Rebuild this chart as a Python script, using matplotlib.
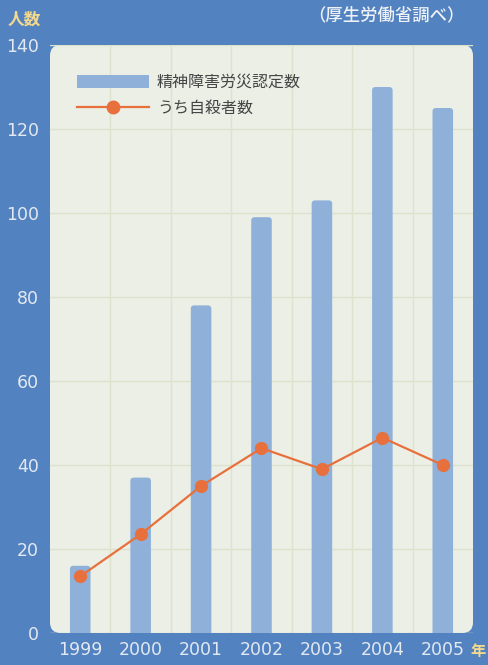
import matplotlib
matplotlib.use("Agg")
import matplotlib.pyplot as plt
from matplotlib.patches import FancyBboxPatch, Patch
from matplotlib.lines import Line2D
import numpy as np

plt.rcParams['font.family'] = ['Noto Sans CJK JP', 'DejaVu Sans']

years = ['1999', '2000', '2001', '2002', '2003', '2004', '2005']
nintei = [16, 37, 78, 99, 103, 130, 125]     # 精神障害労災認定数
jisatsu = [13.5, 23.5, 35, 44, 39, 46.5, 40]  # うち自殺者数
yticks = [0, 20, 40, 60, 80, 100, 120, 140]

bg = '#5382c0'
panel = '#ebefe6'
barc = '#8eb0d9'
linec = '#e8703c'
gridc = '#dde2cc'
tickc = '#e2e9f2'
yellow = '#f3d98e'

fig = plt.figure(figsize=(4.88, 6.65), dpi=100, facecolor=bg)
ax = fig.add_axes([50/488, 32/665, 423/488, 588/665])
ax.set_facecolor('none')

# rounded light panel
ax.add_patch(FancyBboxPatch((0, 0), 1, 1, boxstyle="round,pad=0,rounding_size=0.025",
                            mutation_aspect=423/588, transform=ax.transAxes,
                            facecolor=panel, edgecolor='none', zorder=0, clip_on=False))

x = np.arange(len(years))
bars = ax.bar(x, nintei, width=0.34, color=barc, zorder=2)
# round the bar tops
for b in bars:
    b.set_visible(False)
    ax.add_patch(FancyBboxPatch((b.get_x(), -3), b.get_width(), b.get_height() + 3,
                                boxstyle="round,pad=0,rounding_size=0.06",
                                mutation_aspect=13, facecolor=barc, edgecolor='none',
                                zorder=2))
ax.plot(x, jisatsu, color=linec, lw=1.6, marker='o', ms=8.5, zorder=3)

ax.set_xlim(-0.5, 6.5)
ax.set_ylim(0, 140)
ax.set_yticks(yticks)
ax.set_xticks(x)
ax.set_xticklabels(years)
ax.set_xticks(np.arange(0.5, 6.5, 1), minor=True)
ax.tick_params(axis='both', which='both', length=0, colors=tickc, labelsize=12.5,
               labelfontfamily='DejaVu Sans')
ax.tick_params(axis='y', pad=8)
ax.tick_params(axis='x', pad=6)
ax.grid(axis='y', which='major', color=gridc, lw=1, zorder=1)
ax.grid(axis='x', which='minor', color=gridc, lw=1, zorder=1)
for s in ax.spines.values():
    s.set_visible(False)

handles = [Patch(facecolor=barc, edgecolor='none'),
           Line2D([0], [0], color=linec, lw=1.6, marker='o', ms=9)]
ax.legend(handles, ['精神障害労災認定数', 'うち自殺者数'], loc='upper left',
          bbox_to_anchor=(0.03, 0.975), frameon=False, fontsize=11.5,
          handlelength=4.5, handleheight=0.8, labelspacing=0.55,
          handletextpad=0.5, labelcolor='#454545')

fig.text(8/488, 1 - 20/665, '人数', color=yellow, fontsize=12, va='center', ha='left',
         fontweight='bold')
fig.text(465/488, 1 - 15/665, '（厚生労働省調べ）', color='#eef2f7', fontsize=12.5,
         va='center', ha='right', fontweight='medium')
fig.text(478/488, 1 - 651/665, '年', color=yellow, fontsize=11, va='center', ha='center',
         fontweight='bold')

fig.savefig('out.png', dpi=100, facecolor=bg)
